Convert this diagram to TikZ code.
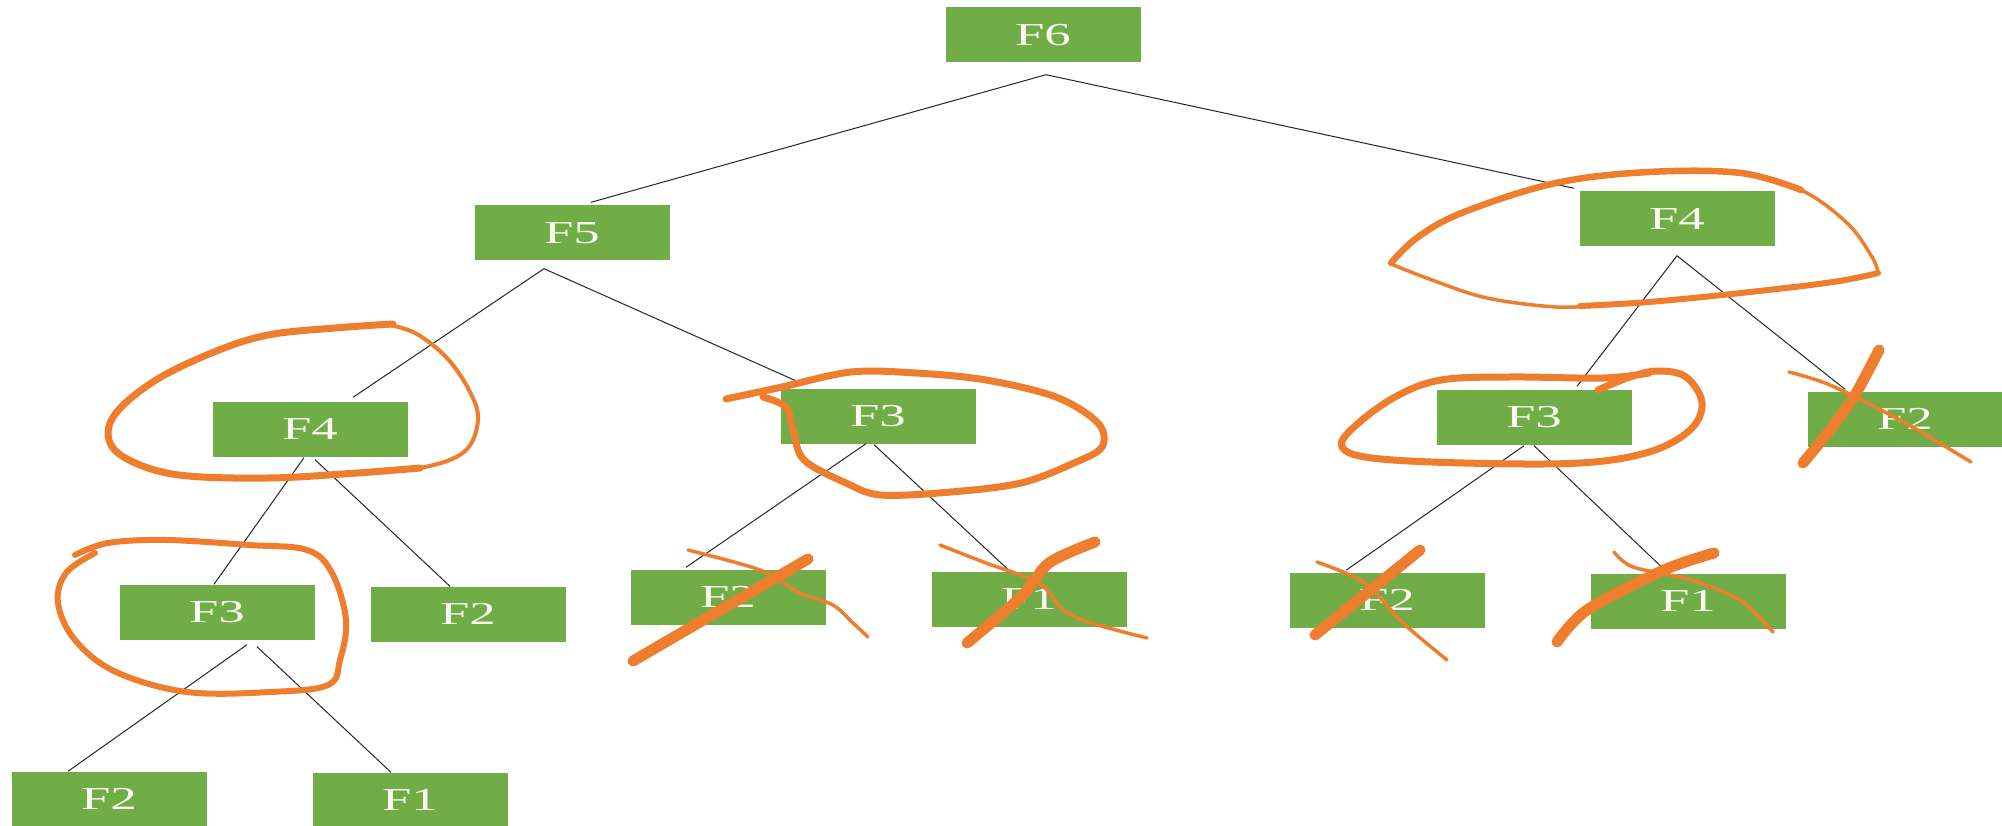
\documentclass[tikz,border=0pt]{standalone}
\usepackage{fontspec}
\setmainfont{Liberation Serif}
\usetikzlibrary{calc}
\definecolor{boxgreen}{HTML}{70AD47}
\definecolor{pen}{HTML}{EE7D2E}
\definecolor{labelwhite}{HTML}{F8F8EE}
\newcommand\widelabel[1]{\scalebox{1.65}[1]{#1}}
\tikzset{
  fbox/.style={fill=boxgreen, minimum width=195pt, minimum height=55pt,
    inner sep=0pt, text=labelwhite, font=\fontsize{32}{38}\selectfont},
  link/.style={draw=black!85, line width=1pt},
  ink/.style={draw=pen, line cap=round, line join=round},
  thickink/.style={ink, line width=11pt},
  thinink/.style={ink, line width=3.5pt},
}
\begin{document}
\begin{tikzpicture}[x=1pt,y=-1pt]
\fill[white] (0,0) rectangle (2002,826);
\useasboundingbox (0,0) rectangle (2002,826);

% call tree of the Fibonacci recursion
\node[fbox] (f6)   at (1043,35)  {\widelabel{F6}};
\node[fbox] (f5)   at (572,233)  {\widelabel{F5}};
\node[fbox] (f4r)  at (1677,219) {\widelabel{F4}};
\node[fbox] (f4l)  at (310,429)  {\widelabel{F4}};
\node[fbox] (f3m)  at (878,416)  {\widelabel{F3}};
\node[fbox] (f3r)  at (1534,417) {\widelabel{F3}};
\node[fbox] (f2r)  at (1905,419) {\widelabel{F2}};
\node[fbox] (f3l)  at (217,612)  {\widelabel{F3}};
\node[fbox] (f2l)  at (468,614)  {\widelabel{F2}};
\node[fbox] (f2m)  at (728,597)  {\widelabel{F2}};
\node[fbox] (f1m)  at (1029,599) {\widelabel{F1}};
\node[fbox] (f2rr) at (1387,600) {\widelabel{F2}};
\node[fbox] (f1r)  at (1688,601) {\widelabel{F1}};
\node[fbox] (f2b)  at (109,799)  {\widelabel{F2}};
\node[fbox] (f1b)  at (410,800)  {\widelabel{F1}};

% branches
\draw[link] ([xshift=3pt,yshift=-12pt]f6.south) -- ([xshift=19pt,yshift=3pt]f5.north);
\draw[link] ([xshift=3pt,yshift=-12pt]f6.south) -- ([xshift=-5pt,yshift=3pt]f4r.north west);
\draw[link] ([xshift=-28pt,yshift=-8pt]f5.south) -- ([xshift=43pt,yshift=4pt]f4l.north);
\draw[link] ([xshift=-28pt,yshift=-8pt]f5.south) -- ([xshift=19pt,yshift=6pt]f3m.north west);
\draw[link] ([xshift=-6pt,yshift=-1pt]f4l.south) -- ([xshift=-3pt]f3l.north);
\draw[link] ([xshift=5pt,yshift=-3pt]f4l.south) -- ([xshift=-18pt]f2l.north);
\draw[link] ([xshift=30pt,yshift=-5pt]f3l.south) -- ([xshift=-41pt]f2b.north);
\draw[link] ([xshift=40pt,yshift=-7pt]f3l.south) -- ([xshift=-19pt]f1b.north);
\draw[link] ([xshift=-12pt]f3m.south) -- ([xshift=-42pt,yshift=2pt]f2m.north);
\draw[link] ([xshift=-4pt,yshift=-1pt]f3m.south) -- ([xshift=-19pt]f1m.north);
\draw[link] ([yshift=-9pt]f4r.south) -- ([xshift=43pt,yshift=3pt]f3r.north);
\draw[link] ([yshift=-9pt]f4r.south) -- ([xshift=-60pt,yshift=2pt]f2r.north);
\draw[link] ([xshift=-10pt,yshift=-1pt]f3r.south) -- ([xshift=-41pt,yshift=2pt]f2rr.north);
\draw[link] ([yshift=-1pt]f3r.south) -- ([xshift=-25pt,yshift=5pt]f1r.north);

% hand-drawn rings round the repeated calls
\draw[ink, line width=7pt] plot[smooth, tension=0.6] coordinates {
  (393,324) (335,328) (268,335) (214,352) (156,380) (116,413) (109,440)
  (129,460) (179,475) (268,478) (357,473) (420,468)};
\draw[ink, line width=4pt] plot[smooth, tension=0.6] coordinates {
  (357,473) (420,468) (464,452) (478,420) (469,390) (446,357) (415,333) (385,324)};

\draw[ink, line width=6pt] plot[smooth, tension=0.6] coordinates {
  (75,555) (108,543) (166,540) (249,545) (307,550) (332,573) (346,620)
  (340,660) (328,685) (270,692) (187,692) (116,672) (75,640) (58,603)
  (66,573) (95,553)};

\draw[ink, line width=7pt] plot[smooth, tension=0.55] coordinates {
  (726,399) (782,387) (851,372) (916,373) (986,380) (1056,397) (1098,423)
  (1102,447) (1074,463) (1021,483) (951,492) (881,495) (846,483) (804,460)
  (793,430) (786,407) (763,397)};

\draw[ink, line width=6.5pt] plot[smooth, tension=0.6] coordinates {
  (1391,263) (1418,237) (1464,212) (1556,183) (1649,172) (1741,173) (1801,190)};
\draw[ink, line width=3.5pt] plot[smooth, tension=0.6] coordinates {
  (1741,173) (1801,190) (1847,223) (1872,257) (1878,273)};
\draw[ink, line width=6pt] plot[smooth, tension=0.6] coordinates {
  (1878,273) (1833,282) (1741,293) (1649,302) (1580,306)};
\draw[ink, line width=3.5pt] plot[smooth, tension=0.6] coordinates {
  (1600,305) (1556,307) (1487,298) (1432,280) (1391,264)};

\draw[ink, line width=7pt] plot[smooth, tension=0.6] coordinates {
  (1598,390) (1630,377) (1658,371) (1686,377) (1702,403) (1690,430)
  (1649,452) (1580,463) (1464,463) (1372,458) (1342,447) (1354,427)
  (1395,397) (1441,380) (1510,377) (1603,378) (1649,373)};

% crosses over the calls that are skipped
\draw[thickink] (808,559) -- (633,661);
\draw[thinink] plot[smooth] coordinates {(688,550) (760,570) (800,593) (833,605) (853,623) (868,637)};
\draw[thickink] plot[smooth] coordinates {(1095,542) (1049,563) (1021,597) (967,643)};
\draw[thinink] plot[smooth] coordinates {(940,545) (986,563) (1039,583) (1063,610) (1091,623) (1147,638)};

\draw[thickink] (1420,550) -- (1315,635);
\draw[thinink] plot[smooth] coordinates {(1317,562) (1365,583) (1403,623) (1447,660)};
\draw[thickink] plot[smooth] coordinates {(1714,553) (1664,570) (1587,610) (1557,642)};
\draw[thinink] plot[smooth] coordinates {(1614,552) (1633,567) (1691,580) (1740,600) (1773,632)};

\draw[thickink] plot[smooth] coordinates {(1879,350) (1855,395) (1830,430) (1803,463)};
\draw[thinink] plot[smooth] coordinates {(1789,372) (1830,385) (1900,420) (1971,462)};
\end{tikzpicture}
\end{document}
